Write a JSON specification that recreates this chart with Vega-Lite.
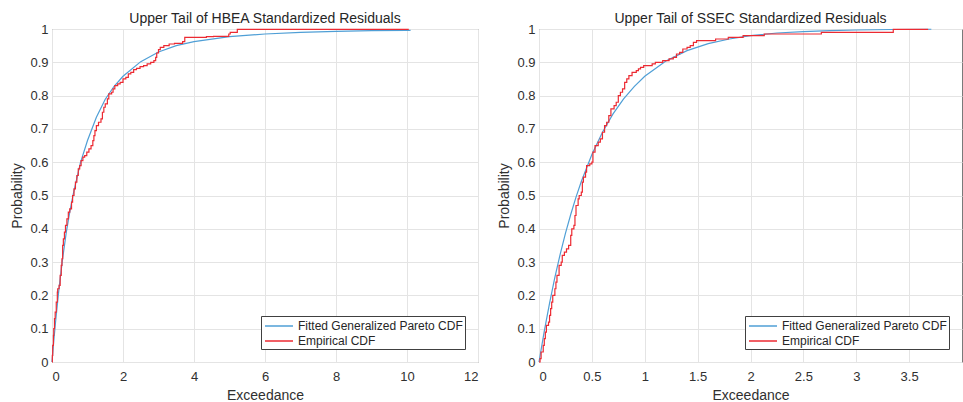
{
  "$schema": "https://vega.github.io/schema/vega-lite/v6.json",
  "padding": {"left": 10, "top": 11, "right": 0, "bottom": 0},
  "bounds": "flush",
  "spacing": 61,
  "datasets": {
    "gpL": [
      {"x": 0, "y": 0}, {"x": 0.05, "y": 0.063}, {"x": 0.1, "y": 0.12}, {"x": 0.2, "y": 0.223}, {"x": 0.3, "y": 0.311},
      {"x": 0.4, "y": 0.388}, {"x": 0.5, "y": 0.45}, {"x": 0.6, "y": 0.505}, {"x": 0.8, "y": 0.598}, {"x": 1.0, "y": 0.665},
      {"x": 1.25, "y": 0.735}, {"x": 1.5, "y": 0.789}, {"x": 1.75, "y": 0.828}, {"x": 2.0, "y": 0.858}, {"x": 2.5, "y": 0.902},
      {"x": 3.0, "y": 0.931}, {"x": 3.5, "y": 0.95}, {"x": 4.0, "y": 0.962}, {"x": 5.0, "y": 0.977}, {"x": 6.0, "y": 0.985},
      {"x": 7.0, "y": 0.99}, {"x": 8.0, "y": 0.993}, {"x": 9.0, "y": 0.995}, {"x": 10.0, "y": 0.996}, {"x": 10.1, "y": 0.996}
    ],
    "ecdfL": [
      {"x": 0, "y": 0}, {"x": 0.01, "y": 0.02}, {"x": 0.02, "y": 0.05}, {"x": 0.04, "y": 0.08}, {"x": 0.05, "y": 0.1},
      {"x": 0.07, "y": 0.13}, {"x": 0.09, "y": 0.15}, {"x": 0.12, "y": 0.18}, {"x": 0.15, "y": 0.21}, {"x": 0.16, "y": 0.22},
      {"x": 0.2, "y": 0.23}, {"x": 0.23, "y": 0.26}, {"x": 0.26, "y": 0.29}, {"x": 0.28, "y": 0.31}, {"x": 0.3, "y": 0.35},
      {"x": 0.32, "y": 0.37}, {"x": 0.35, "y": 0.39}, {"x": 0.38, "y": 0.41}, {"x": 0.42, "y": 0.43}, {"x": 0.46, "y": 0.45},
      {"x": 0.5, "y": 0.46}, {"x": 0.55, "y": 0.48}, {"x": 0.58, "y": 0.5}, {"x": 0.62, "y": 0.52}, {"x": 0.66, "y": 0.54},
      {"x": 0.7, "y": 0.56}, {"x": 0.74, "y": 0.58}, {"x": 0.78, "y": 0.59}, {"x": 0.82, "y": 0.605}, {"x": 0.87, "y": 0.615},
      {"x": 0.92, "y": 0.62}, {"x": 0.98, "y": 0.63}, {"x": 1.04, "y": 0.64}, {"x": 1.1, "y": 0.65}, {"x": 1.15, "y": 0.665},
      {"x": 1.18, "y": 0.68}, {"x": 1.21, "y": 0.695}, {"x": 1.25, "y": 0.71}, {"x": 1.31, "y": 0.72}, {"x": 1.38, "y": 0.73},
      {"x": 1.42, "y": 0.75}, {"x": 1.46, "y": 0.765}, {"x": 1.5, "y": 0.775}, {"x": 1.56, "y": 0.79}, {"x": 1.6, "y": 0.805},
      {"x": 1.68, "y": 0.81}, {"x": 1.72, "y": 0.82}, {"x": 1.77, "y": 0.83}, {"x": 1.85, "y": 0.835}, {"x": 1.92, "y": 0.84},
      {"x": 2.0, "y": 0.85}, {"x": 2.08, "y": 0.855}, {"x": 2.15, "y": 0.865}, {"x": 2.22, "y": 0.87}, {"x": 2.3, "y": 0.878},
      {"x": 2.38, "y": 0.882}, {"x": 2.48, "y": 0.887}, {"x": 2.58, "y": 0.89}, {"x": 2.68, "y": 0.895}, {"x": 2.78, "y": 0.9},
      {"x": 2.87, "y": 0.905}, {"x": 2.92, "y": 0.915}, {"x": 2.95, "y": 0.928}, {"x": 3.0, "y": 0.938}, {"x": 3.05, "y": 0.945},
      {"x": 3.15, "y": 0.95}, {"x": 3.3, "y": 0.955}, {"x": 3.45, "y": 0.957}, {"x": 3.68, "y": 0.962}, {"x": 3.74, "y": 0.975},
      {"x": 4.35, "y": 0.977}, {"x": 4.55, "y": 0.978}, {"x": 4.98, "y": 0.985}, {"x": 5.02, "y": 0.99}, {"x": 5.22, "y": 0.999},
      {"x": 10.05, "y": 0.999}
    ],
    "gpR": [
      {"x": 0, "y": 0}, {"x": 0.05, "y": 0.093}, {"x": 0.1, "y": 0.177}, {"x": 0.15, "y": 0.254}, {"x": 0.2, "y": 0.323},
      {"x": 0.25, "y": 0.386}, {"x": 0.3, "y": 0.443}, {"x": 0.35, "y": 0.495}, {"x": 0.4, "y": 0.542}, {"x": 0.5, "y": 0.623},
      {"x": 0.6, "y": 0.69}, {"x": 0.7, "y": 0.745}, {"x": 0.8, "y": 0.79}, {"x": 0.9, "y": 0.827}, {"x": 1.0, "y": 0.858},
      {"x": 1.2, "y": 0.904}, {"x": 1.4, "y": 0.935}, {"x": 1.6, "y": 0.956}, {"x": 1.8, "y": 0.97}, {"x": 2.0, "y": 0.98},
      {"x": 2.25, "y": 0.988}, {"x": 2.5, "y": 0.992}, {"x": 2.75, "y": 0.995}, {"x": 3.0, "y": 0.997}, {"x": 3.35, "y": 0.9985},
      {"x": 3.71, "y": 0.9993}
    ],
    "ecdfR": [
      {"x": 0, "y": 0}, {"x": 0.01, "y": 0.01}, {"x": 0.02, "y": 0.03}, {"x": 0.04, "y": 0.05}, {"x": 0.05, "y": 0.07},
      {"x": 0.06, "y": 0.09}, {"x": 0.07, "y": 0.11}, {"x": 0.09, "y": 0.12}, {"x": 0.1, "y": 0.14}, {"x": 0.11, "y": 0.16},
      {"x": 0.12, "y": 0.18}, {"x": 0.13, "y": 0.2}, {"x": 0.15, "y": 0.22}, {"x": 0.16, "y": 0.24}, {"x": 0.17, "y": 0.26},
      {"x": 0.19, "y": 0.29}, {"x": 0.21, "y": 0.3}, {"x": 0.22, "y": 0.32}, {"x": 0.24, "y": 0.33}, {"x": 0.26, "y": 0.34},
      {"x": 0.28, "y": 0.35}, {"x": 0.3, "y": 0.38}, {"x": 0.31, "y": 0.4}, {"x": 0.33, "y": 0.41}, {"x": 0.34, "y": 0.44},
      {"x": 0.35, "y": 0.47}, {"x": 0.37, "y": 0.49}, {"x": 0.38, "y": 0.5}, {"x": 0.4, "y": 0.51}, {"x": 0.41, "y": 0.54},
      {"x": 0.42, "y": 0.555}, {"x": 0.44, "y": 0.57}, {"x": 0.45, "y": 0.59}, {"x": 0.48, "y": 0.595}, {"x": 0.5, "y": 0.6},
      {"x": 0.51, "y": 0.63}, {"x": 0.53, "y": 0.65}, {"x": 0.56, "y": 0.66}, {"x": 0.58, "y": 0.67}, {"x": 0.6, "y": 0.69},
      {"x": 0.62, "y": 0.71}, {"x": 0.64, "y": 0.72}, {"x": 0.66, "y": 0.74}, {"x": 0.68, "y": 0.76}, {"x": 0.71, "y": 0.77},
      {"x": 0.73, "y": 0.78}, {"x": 0.75, "y": 0.8}, {"x": 0.77, "y": 0.81}, {"x": 0.79, "y": 0.82}, {"x": 0.81, "y": 0.84},
      {"x": 0.83, "y": 0.85}, {"x": 0.85, "y": 0.86}, {"x": 0.88, "y": 0.87}, {"x": 0.92, "y": 0.875}, {"x": 0.94, "y": 0.88},
      {"x": 0.96, "y": 0.885}, {"x": 0.99, "y": 0.89}, {"x": 1.07, "y": 0.895}, {"x": 1.1, "y": 0.9}, {"x": 1.17, "y": 0.905},
      {"x": 1.23, "y": 0.91}, {"x": 1.27, "y": 0.915}, {"x": 1.3, "y": 0.925}, {"x": 1.33, "y": 0.93}, {"x": 1.36, "y": 0.94},
      {"x": 1.4, "y": 0.945}, {"x": 1.43, "y": 0.95}, {"x": 1.46, "y": 0.96}, {"x": 1.49, "y": 0.965}, {"x": 1.67, "y": 0.97},
      {"x": 1.79, "y": 0.975}, {"x": 1.93, "y": 0.98}, {"x": 2.13, "y": 0.985}, {"x": 2.67, "y": 0.99}, {"x": 3.35, "y": 0.999},
      {"x": 3.68, "y": 0.999}
    ]
  },
  "hconcat": [
    {
      "width": 426,
      "height": 333,
      "title": "Upper Tail of HBEA Standardized Residuals",
      "encoding": {
        "x": {"field": "x", "type": "quantitative", "scale": {"domain": [0, 12], "nice": false}, "axis": {"title": "Exceedance", "values": [0, 2, 4, 6, 8, 10, 12], "format": "~g"}},
        "y": {"field": "y", "type": "quantitative", "scale": {"domain": [0, 1], "nice": false}, "axis": {"title": "Probability", "values": [0, 0.1, 0.2, 0.3, 0.4, 0.5, 0.6, 0.7, 0.8, 0.9, 1], "format": "~g"}},
        "color": {"field": "series", "type": "nominal", "scale": {"domain": ["Fitted Generalized Pareto CDF", "Empirical CDF"], "range": ["#4f9fd6", "#ec2a32"]}}
      },
      "layer": [
        {"data": {"name": "gpL"}, "transform": [{"calculate": "'Fitted Generalized Pareto CDF'", "as": "series"}], "mark": {"type": "line", "strokeWidth": 1.2}},
        {"data": {"name": "ecdfL"}, "transform": [{"calculate": "'Empirical CDF'", "as": "series"}], "mark": {"type": "line", "strokeWidth": 1.2, "interpolate": "step-after"}}
      ]
    },
    {
      "width": 423,
      "height": 333,
      "title": "Upper Tail of SSEC Standardized Residuals",
      "encoding": {
        "x": {"field": "x", "type": "quantitative", "scale": {"domain": [0, 4], "nice": false}, "axis": {"title": "Exceedance", "values": [0, 0.5, 1, 1.5, 2, 2.5, 3, 3.5], "format": "~g"}},
        "y": {"field": "y", "type": "quantitative", "scale": {"domain": [0, 1], "nice": false}, "axis": {"title": "Probability", "values": [0, 0.1, 0.2, 0.3, 0.4, 0.5, 0.6, 0.7, 0.8, 0.9, 1], "format": "~g"}},
        "color": {"field": "series", "type": "nominal", "scale": {"domain": ["Fitted Generalized Pareto CDF", "Empirical CDF"], "range": ["#4f9fd6", "#ec2a32"]}}
      },
      "layer": [
        {"data": {"name": "gpR"}, "transform": [{"calculate": "'Fitted Generalized Pareto CDF'", "as": "series"}], "mark": {"type": "line", "strokeWidth": 1.2}},
        {"data": {"name": "ecdfR"}, "transform": [{"calculate": "'Empirical CDF'", "as": "series"}], "mark": {"type": "line", "strokeWidth": 1.2, "interpolate": "step-after"}}
      ]
    }
  ],
  "resolve": {"scale": {"color": "independent"}, "legend": {"color": "independent"}},
  "config": {
    "font": "Liberation Sans",
    "view": {"stroke": "#7a7a7a", "strokeWidth": 1},
    "axis": {
      "domain": false,
      "ticks": false,
      "grid": true,
      "gridColor": "#e4e4e4",
      "gridWidth": 1,
      "labelFontSize": 13,
      "labelColor": "#303030",
      "titleFontSize": 14,
      "titleFontWeight": "normal",
      "titleColor": "#303030"
    },
    "axisX": {"labelPadding": 8, "titlePadding": 5},
    "axisY": {"labelPadding": 4, "titlePadding": 5},
    "title": {"fontSize": 14, "fontWeight": "normal", "color": "#262626", "offset": -3},
    "legend": {
      "orient": "bottom-right",
      "offset": 13,
      "title": null,
      "symbolType": "M-2,0H2",
      "symbolSize": 196,
      "symbolOffset": 8,
      "symbolStrokeWidth": 1.5,
      "labelFontSize": 12,
      "labelLimit": 400,
      "labelColor": "#262626",
      "labelOffset": 11,
      "strokeColor": "#404040",
      "fillColor": "white",
      "padding": 2,
      "rowPadding": 1
    }
  }
}
